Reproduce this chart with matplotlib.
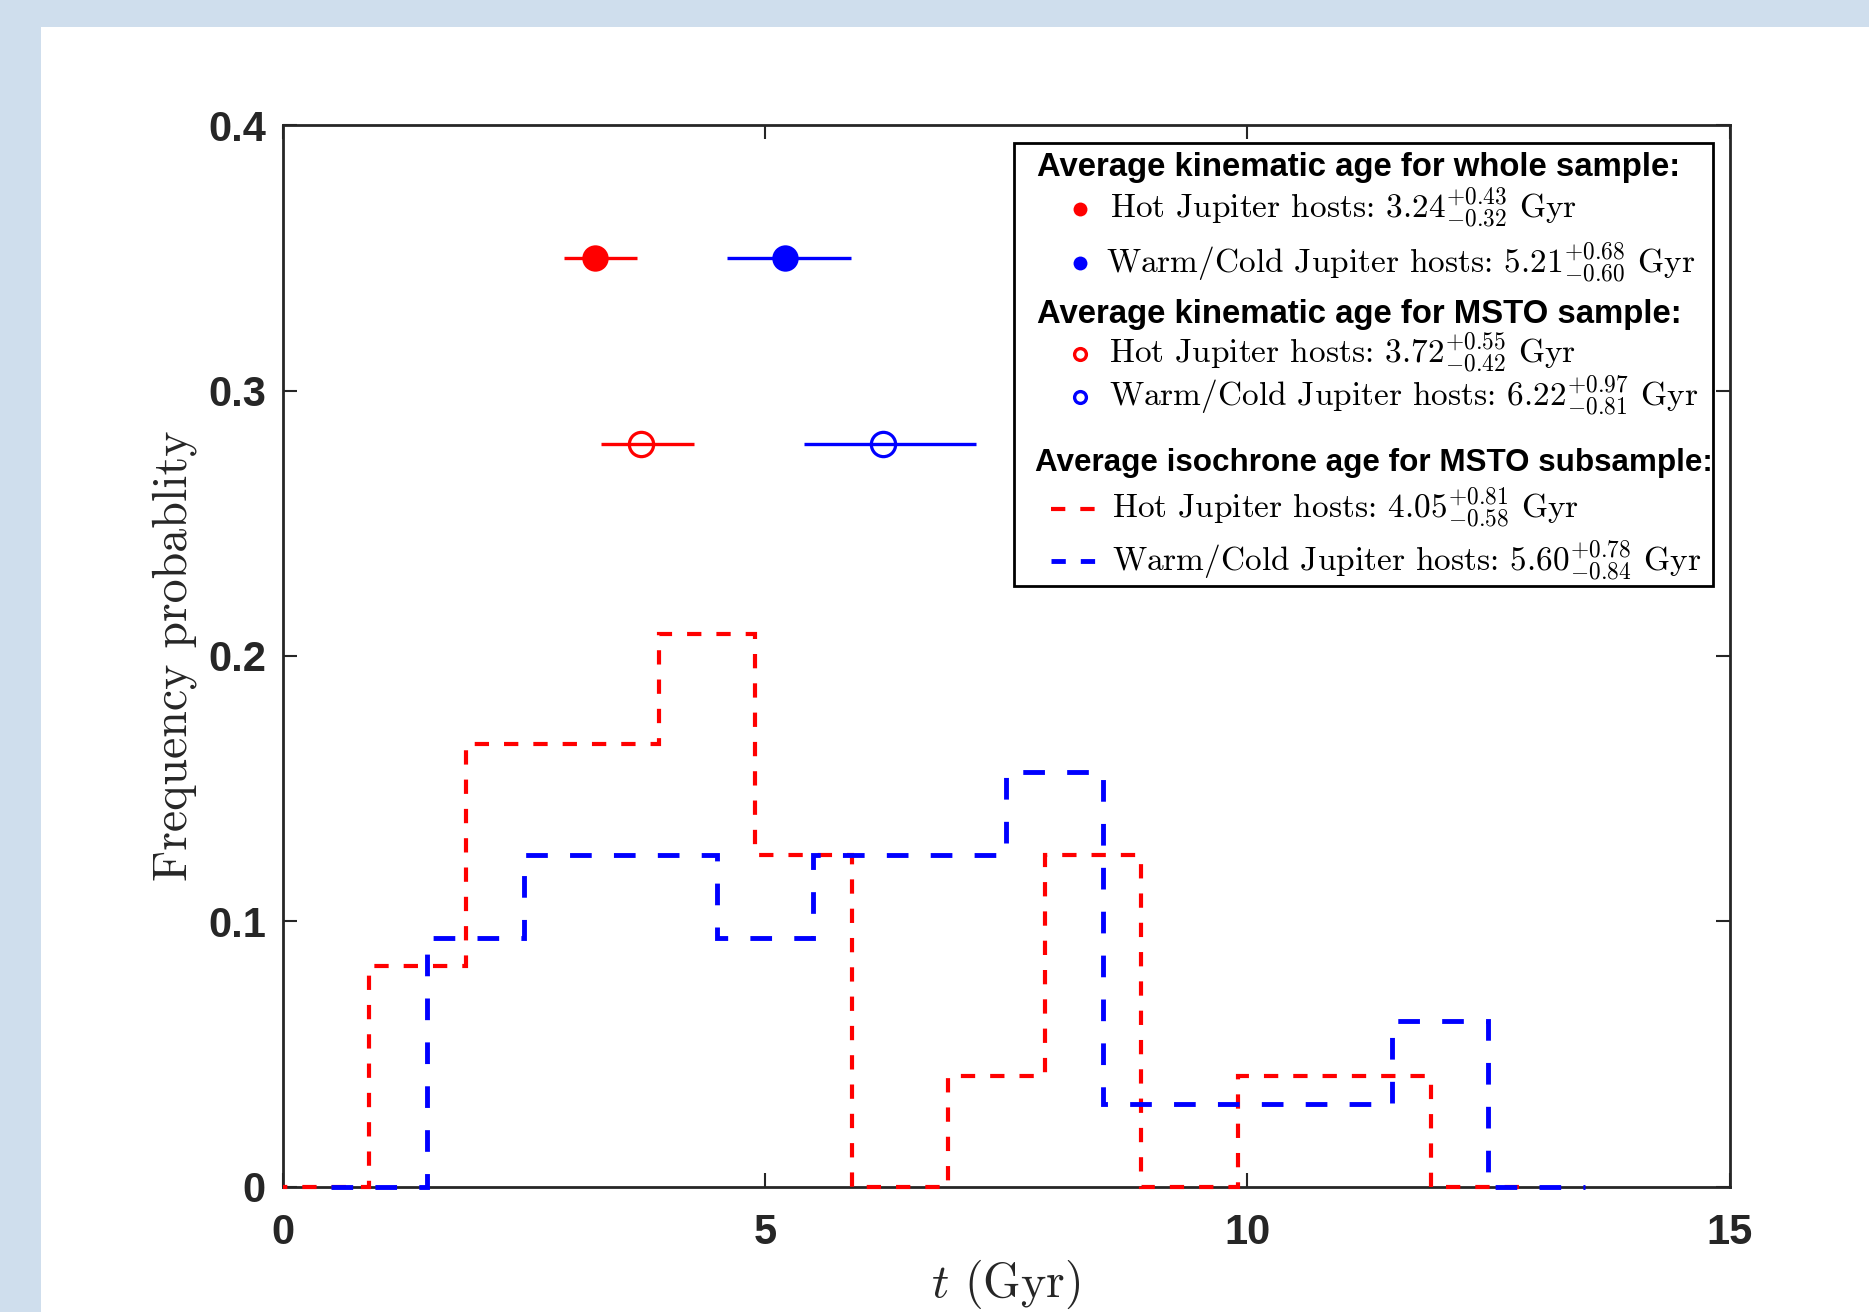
import numpy as np
import matplotlib
matplotlib.use('Agg')
import matplotlib.pyplot as plt
from matplotlib.patches import Rectangle

plt.rcParams['mathtext.fontset'] = 'cm'
plt.rcParams['lines.scale_dashes'] = False

# histogram counts (bin width 1 Gyr)
hot_start = -0.1
hot_counts = [0, 2, 4, 4, 5, 3, 0, 1, 3, 0, 1, 1, 0]
warm_start = 0.5
warm_counts = [0, 3, 4, 4, 3, 4, 4, 5, 1, 1, 1, 2, 0]
bin_width = 1.0

# average ages: value, minus err, plus err
kin_whole_hot = (3.24, 0.32, 0.43)
kin_whole_warm = (5.21, 0.60, 0.68)
kin_msto_hot = (3.72, 0.42, 0.55)
kin_msto_warm = (6.22, 0.81, 0.97)
iso_msto_hot = (4.05, 0.58, 0.81)
iso_msto_warm = (5.60, 0.84, 0.78)
y_whole = 0.35
y_msto = 0.28

xticks = [0, 5, 10, 15]
yticks = [0, 0.1, 0.2, 0.3, 0.4]
ytick_labels = ['0', '0.1', '0.2', '0.3', '0.4']

RED = '#ff0000'
BLUE = '#0000ff'
DARK = '#262626'
red_dash = (0, (10.3, 10.8))
blue_dash = (0, (15.6, 16.0))
tick_font = 'Liberation Sans'


def age_label(name, a):
    v, m, p = a
    return '%s hosts: $%.2f^{+%.2f}_{-%.2f}$ Gyr' % (name, v, p, m)


fig = plt.figure(figsize=(18.69, 13.12), dpi=100)
fig.patch.set_facecolor('#cfdeed')
fig.patches.append(Rectangle((41 / 1869, 0), 1, 1 - 27 / 1312, transform=fig.transFigure,
                             facecolor='white', edgecolor='none', zorder=-1))

ax = fig.add_axes([0.1512, 0.0953, 0.7742, 0.8094])
ax.set_zorder(1)

clip = Rectangle((0, -0.004), 15, 0.41, transform=ax.transData)

hot_edges = hot_start + bin_width * np.arange(len(hot_counts) + 1)
warm_edges = warm_start + bin_width * np.arange(len(warm_counts) + 1)
hot_freq = np.array(hot_counts) / sum(hot_counts)
warm_freq = np.array(warm_counts) / sum(warm_counts)

s1 = ax.stairs(hot_freq, hot_edges, baseline=None, color=RED, linewidth=3.0,
               linestyle=red_dash, zorder=3)
s2 = ax.stairs(warm_freq, warm_edges, baseline=None, color=BLUE, linewidth=3.5,
               linestyle=blue_dash, zorder=3.1)
s1.set_clip_path(clip)
s2.set_clip_path(clip)

# error bars for kinematic ages
for a, col, yy, filled in [(kin_whole_hot, RED, y_whole, True),
                           (kin_whole_warm, BLUE, y_whole, True),
                           (kin_msto_hot, RED, y_msto, False),
                           (kin_msto_warm, BLUE, y_msto, False)]:
    v, m, p = a
    ax.errorbar([v], [yy], xerr=[[m], [p]], fmt='o', color=col, ecolor=col,
                elinewidth=2.4, capsize=0,
                markersize=19 if filled else 17.5,
                markerfacecolor=col if filled else 'none',
                markeredgewidth=0 if filled else 2.3, zorder=4)

ax.set_xlim(0, 15)
ax.set_ylim(0, 0.4)
ax.set_xticks(xticks)
ax.set_yticks(yticks)
ax.set_xticklabels([str(t) for t in xticks])
ax.set_yticklabels(ytick_labels)
for lab in ax.get_xticklabels() + ax.get_yticklabels():
    lab.set_fontfamily(tick_font)
    lab.set_fontweight('bold')
ax.tick_params(axis='both', direction='in', length=10, width=1.5, colors=DARK,
               labelsize=30, top=True, right=True)
ax.tick_params(axis='x', pad=19)
ax.tick_params(axis='y', pad=12)
for sp in ax.spines.values():
    sp.set_linewidth(2.0)
    sp.set_color(DARK)

ax.set_ylabel('Frequency probablity', fontfamily='cmr10', fontsize=34.5, color=DARK)
ax.set_xlabel('$t$ (Gyr)', fontfamily='cmr10', fontsize=34.5, color=DARK)
ax.yaxis.set_label_coords(-0.059, 0.5)
ax.xaxis.set_label_coords(0.5, -0.067)

# legend box
T = ax.transAxes
ax.add_patch(Rectangle((0.5058, 0.5657), 0.4827, 0.4175, transform=T, facecolor='white',
                       edgecolor='black', linewidth=2.0, zorder=5))
hdr = dict(transform=T, fontfamily=tick_font, fontweight='bold',
           color='black', va='baseline', ha='left', zorder=6)
ent = dict(transform=T, fontfamily='cmr10', fontsize=24, color='black',
           va='baseline', ha='left', zorder=6)
ax.text(0.5214, 0.9517, 'Average kinematic age for whole sample:', fontsize=23.7, **hdr)
ax.text(0.5214, 0.8137, 'Average kinematic age for MSTO sample:', fontsize=23.7, **hdr)
ax.text(0.5198, 0.6745, 'Average isochrone age for MSTO subsample:', fontsize=22.6, **hdr)

ax.plot([0.5511], [0.9214], 'o', color=RED, ms=10, mew=0, transform=T, clip_on=False, zorder=6)
ax.text(0.5717, 0.9125, age_label('Hot Jupiter', kin_whole_hot), **ent)
ax.plot([0.5511], [0.8698], 'o', color=BLUE, ms=10, mew=0, transform=T, clip_on=False, zorder=6)
ax.text(0.5692, 0.8608, age_label('Warm/Cold Jupiter', kin_whole_warm), **ent)
ax.plot([0.5511], [0.7845], 'o', color=RED, mfc='none', ms=8.5, mew=2.4, transform=T,
        clip_on=False, zorder=6)
ax.text(0.5708, 0.7755, age_label('Hot Jupiter', kin_msto_hot), **ent)
ax.plot([0.5511], [0.7441], 'o', color=BLUE, mfc='none', ms=8.5, mew=2.4, transform=T,
        clip_on=False, zorder=6)
ax.text(0.5708, 0.7351, age_label('Warm/Cold Jupiter', kin_msto_warm), **ent)
ax.plot([0.5313, 0.5626], [0.6386, 0.6386], color=RED, lw=3.0, linestyle=red_dash,
        transform=T, clip_on=False, zorder=6)
ax.text(0.5733, 0.6296, age_label('Hot Jupiter', iso_msto_hot), **ent)
ax.plot([0.5313, 0.5626], [0.5892, 0.5892], color=BLUE, lw=3.5, linestyle=red_dash,
        transform=T, clip_on=False, zorder=6)
ax.text(0.5733, 0.5802, age_label('Warm/Cold Jupiter', iso_msto_warm), **ent)

fig.savefig('out.png', dpi=100, facecolor=fig.get_facecolor())
